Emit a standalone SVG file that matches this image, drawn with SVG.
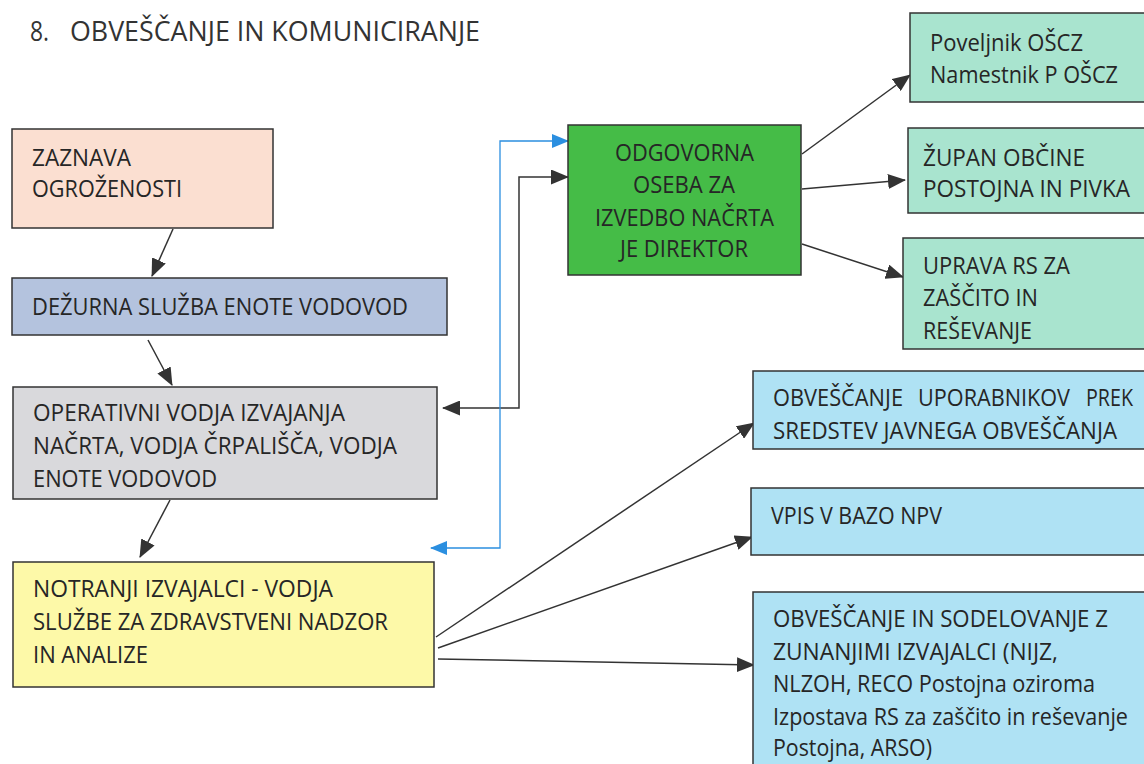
<svg xmlns="http://www.w3.org/2000/svg" width="1144" height="764" viewBox="0 0 1144 764">
<style>
.bx{stroke:#333;stroke-width:1.5}
.t{font-family:"Open Sans","Noto Sans","Liberation Sans",sans-serif;font-size:24.5px;fill:#262626}
.tt{font-size:27.5px;fill:#333}
.c{fill:none;stroke:#333;stroke-width:1.5}
.cb{fill:none;stroke:#2b8fe0;stroke-width:1.3}
</style>
<defs>
<marker id="ah" markerUnits="userSpaceOnUse" markerWidth="18" markerHeight="15" refX="17" refY="7.5" orient="auto-start-reverse" viewBox="0 0 18 15"><path d="M0,0 L18,7.5 L0,15 z" fill="#333"/></marker>
<marker id="ahb" markerUnits="userSpaceOnUse" markerWidth="17" markerHeight="14" refX="16" refY="7" orient="auto-start-reverse" viewBox="0 0 17 14"><path d="M0,0 L17,7 L0,14 z" fill="#2b8fe0"/></marker>
</defs>
<rect width="1144" height="764" fill="#fff"/>
<g id="title">
<text class="t tt" x="30" y="41" textLength="19" lengthAdjust="spacingAndGlyphs">8.</text>
<text class="t tt" x="70" y="41" textLength="410" lengthAdjust="spacingAndGlyphs">OBVEŠČANJE IN KOMUNICIRANJE</text>
</g>
<g id="connectors">
<path class="c" d="M173,229 L152,276" marker-end="url(#ah)"/>
<path class="c" d="M148,340 L172,385" marker-end="url(#ah)"/>
<path class="c" d="M170,500 L140,557" marker-end="url(#ah)"/>
<path class="c" d="M443,408 H519 V177 H568" marker-start="url(#ah)" marker-end="url(#ah)"/>
<path class="cb" d="M431,548 H500 V141 H568" marker-start="url(#ahb)" marker-end="url(#ahb)"/>
<path class="c" d="M802,154 L910,75" marker-end="url(#ah)"/>
<path class="c" d="M802,189 L905,180" marker-end="url(#ah)"/>
<path class="c" d="M802,244 L903,277" marker-end="url(#ah)"/>
<path class="c" d="M436,637 L754,423" marker-end="url(#ah)"/>
<path class="c" d="M438,648 L752,537" marker-end="url(#ah)"/>
<path class="c" d="M438,659 L754,665" marker-end="url(#ah)"/>
</g>
<g id="zaznava">
<rect class="bx" x="12" y="129" width="261" height="99" fill="#fbdfd1"/>
<text class="t" x="32" y="166" textLength="99" lengthAdjust="spacingAndGlyphs">ZAZNAVA</text>
<text class="t" x="32" y="197" textLength="150" lengthAdjust="spacingAndGlyphs">OGROŽENOSTI</text>
</g>
<g id="dezurna">
<rect class="bx" x="12" y="278" width="435" height="57" fill="#b4c3de"/>
<text class="t" x="32" y="315" textLength="376" lengthAdjust="spacingAndGlyphs">DEŽURNA SLUŽBA ENOTE VODOVOD</text>
</g>
<g id="operativni">
<rect class="bx" x="13" y="387" width="424" height="112" fill="#d9d9dc"/>
<text class="t" x="33" y="421" textLength="312" lengthAdjust="spacingAndGlyphs">OPERATIVNI VODJA IZVAJANJA</text>
<text class="t" x="33" y="454" textLength="364" lengthAdjust="spacingAndGlyphs">NAČRTA, VODJA ČRPALIŠČA, VODJA</text>
<text class="t" x="33" y="487" textLength="184" lengthAdjust="spacingAndGlyphs">ENOTE VODOVOD</text>
</g>
<g id="notranji">
<rect class="bx" x="13" y="562" width="421" height="125" fill="#fdf9a8"/>
<text class="t" x="33" y="597" textLength="300" lengthAdjust="spacingAndGlyphs">NOTRANJI IZVAJALCI - VODJA</text>
<text class="t" x="33" y="630" textLength="355" lengthAdjust="spacingAndGlyphs">SLUŽBE ZA ZDRAVSTVENI NADZOR</text>
<text class="t" x="33" y="663" textLength="115" lengthAdjust="spacingAndGlyphs">IN ANALIZE</text>
</g>
<g id="odgovorna">
<rect class="bx" x="568" y="125" width="233" height="150" fill="#45bc47"/>
<text class="t" x="615" y="161" textLength="139" lengthAdjust="spacingAndGlyphs">ODGOVORNA</text>
<text class="t" x="633" y="193" textLength="102" lengthAdjust="spacingAndGlyphs">OSEBA ZA</text>
<text class="t" x="595" y="226" textLength="179" lengthAdjust="spacingAndGlyphs">IZVEDBO NAČRTA</text>
<text class="t" x="620" y="257" textLength="128" lengthAdjust="spacingAndGlyphs">JE DIREKTOR</text>
</g>
<g id="poveljnik">
<rect class="bx" x="910" y="13" width="240" height="89" fill="#a9e4cf"/>
<text class="t" x="930" y="51" textLength="153" lengthAdjust="spacingAndGlyphs">Poveljnik OŠCZ</text>
<text class="t" x="930" y="83" textLength="188" lengthAdjust="spacingAndGlyphs">Namestnik P OŠCZ</text>
</g>
<g id="zupan">
<rect class="bx" x="908" y="128" width="242" height="85" fill="#a9e4cf"/>
<text class="t" x="923" y="166" textLength="162" lengthAdjust="spacingAndGlyphs">ŽUPAN OBČINE</text>
<text class="t" x="923" y="197" textLength="207" lengthAdjust="spacingAndGlyphs">POSTOJNA IN PIVKA</text>
</g>
<g id="uprava">
<rect class="bx" x="903" y="238" width="247" height="111" fill="#a9e4cf"/>
<text class="t" x="923" y="274" textLength="147" lengthAdjust="spacingAndGlyphs">UPRAVA RS ZA</text>
<text class="t" x="923" y="306" textLength="115" lengthAdjust="spacingAndGlyphs">ZAŠČITO IN</text>
<text class="t" x="923" y="339" textLength="109" lengthAdjust="spacingAndGlyphs">REŠEVANJE</text>
</g>
<g id="obvescanje-uporabnikov">
<rect class="bx" x="753" y="371" width="397" height="78" fill="#afe2f4"/>
<text class="t" y="406"><tspan x="773" textLength="130" lengthAdjust="spacingAndGlyphs">OBVEŠČANJE</tspan><tspan x="918" textLength="152" lengthAdjust="spacingAndGlyphs">UPORABNIKOV</tspan><tspan x="1086" textLength="47" lengthAdjust="spacingAndGlyphs">PREK</tspan></text>
<text class="t" x="773" y="439" textLength="344" lengthAdjust="spacingAndGlyphs">SREDSTEV JAVNEGA OBVEŠČANJA</text>
</g>
<g id="vpis">
<rect class="bx" x="751" y="488" width="399" height="67" fill="#afe2f4"/>
<text class="t" x="771" y="524" textLength="171" lengthAdjust="spacingAndGlyphs">VPIS V BAZO NPV</text>
</g>
<g id="zunanji">
<rect class="bx" x="753" y="592" width="397" height="190" fill="#afe2f4"/>
<text class="t" x="773" y="627" textLength="335" lengthAdjust="spacingAndGlyphs">OBVEŠČANJE IN SODELOVANJE Z</text>
<text class="t" x="773" y="660" textLength="285" lengthAdjust="spacingAndGlyphs">ZUNANJIMI IZVAJALCI (NIJZ,</text>
<text class="t" x="773" y="692" textLength="322" lengthAdjust="spacingAndGlyphs">NLZOH, RECO Postojna oziroma</text>
<text class="t" x="773" y="725" textLength="355" lengthAdjust="spacingAndGlyphs">Izpostava RS za zaščito in reševanje</text>
<text class="t" x="773" y="756" textLength="159" lengthAdjust="spacingAndGlyphs">Postojna, ARSO)</text>
</g>
</svg>
